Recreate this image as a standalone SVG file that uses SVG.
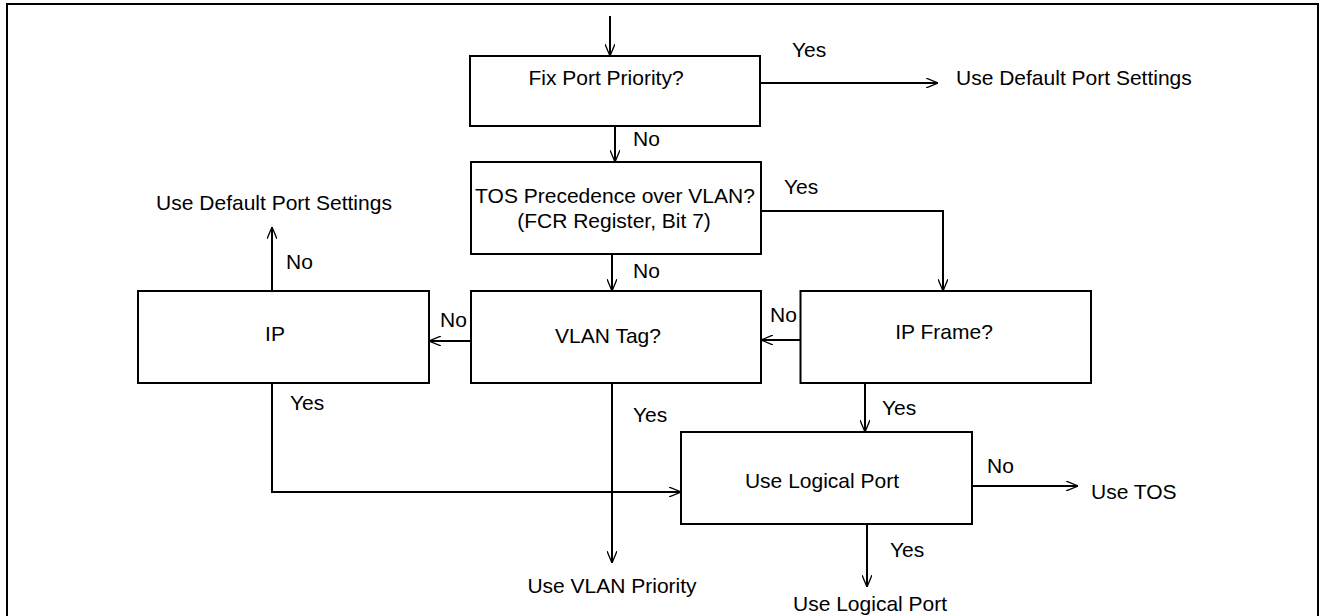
<svg xmlns="http://www.w3.org/2000/svg" width="1323" height="616" viewBox="0 0 1323 616">
<style>
.box{fill:#fff;stroke:#000;stroke-width:2}
.t{font-family:"Liberation Sans",Arial,sans-serif;font-size:21px;fill:#000}
.m{text-anchor:middle}
.c{fill:none;stroke:#000;stroke-width:2}
</style>
<defs>
<marker id="a" viewBox="0 0 12 10" refX="12" refY="5" markerWidth="12" markerHeight="10" markerUnits="userSpaceOnUse" orient="auto">
<path d="M0,0 L12,5 L0,10" fill="none" stroke="#000" stroke-width="1.3"/>
</marker>
</defs>
<rect x="7" y="4" width="1311" height="640" fill="#fff" stroke="#000" stroke-width="2"/>
<g id="connectors">
<path class="c" d="M610,16 V56" marker-end="url(#a)"/>
<path class="c" d="M760,83 H938" marker-end="url(#a)"/>
<path class="c" d="M615,126 V162" marker-end="url(#a)"/>
<path class="c" d="M761,211 H943 V291" marker-end="url(#a)"/>
<path class="c" d="M612,254 V291" marker-end="url(#a)"/>
<path class="c" d="M800,340 H761" marker-end="url(#a)"/>
<path class="c" d="M471,341 H429" marker-end="url(#a)"/>
<path class="c" d="M272,291 V227" marker-end="url(#a)"/>
<path class="c" d="M272,383 V492 H681" marker-end="url(#a)"/>
<path class="c" d="M612,383 V563" marker-end="url(#a)"/>
<path class="c" d="M865,383 V432" marker-end="url(#a)"/>
<path class="c" d="M972,486 H1078" marker-end="url(#a)"/>
<path class="c" d="M867,524 V587" marker-end="url(#a)"/>
</g>
<g id="labels">
<text class="t" x="792" y="57">Yes</text>
<text class="t" x="956" y="85">Use Default Port Settings</text>
<text class="t" x="633" y="146">No</text>
<text class="t" x="784" y="194">Yes</text>
<text class="t m" x="274" y="210">Use Default Port Settings</text>
<text class="t" x="286" y="269">No</text>
<text class="t" x="633" y="278">No</text>
<text class="t" x="440" y="327">No</text>
<text class="t" x="770" y="322">No</text>
<text class="t" x="290" y="410">Yes</text>
<text class="t" x="882" y="415">Yes</text>
<text class="t" x="633" y="422">Yes</text>
<text class="t" x="987" y="473">No</text>
<text class="t" x="1091" y="499">Use TOS</text>
<text class="t" x="890" y="557">Yes</text>
<text class="t m" x="612" y="593">Use VLAN Priority</text>
<text class="t" x="793" y="611">Use Logical Port</text>
</g>
<g id="fix">
<rect class="box" x="470" y="56" width="290" height="70"/>
<text class="t m" x="606" y="85">Fix Port Priority?</text>
</g>
<g id="tos">
<rect class="box" x="471" y="162" width="290" height="92"/>
<text class="t m" x="615" y="203">TOS Precedence over VLAN?</text>
<text class="t m" x="614" y="228">(FCR Register, Bit 7)</text>
</g>
<g id="ip">
<rect class="box" x="138" y="291" width="291" height="92"/>
<text class="t m" x="275" y="341">IP</text>
</g>
<g id="vlan">
<rect class="box" x="471" y="291" width="290" height="92"/>
<text class="t m" x="608" y="343">VLAN Tag?</text>
</g>
<g id="ipframe">
<rect class="box" x="800.5" y="291" width="290.5" height="92"/>
<text class="t m" x="944" y="339">IP Frame?</text>
</g>
<g id="logical">
<rect class="box" x="681" y="432" width="291" height="92"/>
<text class="t m" x="822" y="488">Use Logical Port</text>
</g>
</svg>
